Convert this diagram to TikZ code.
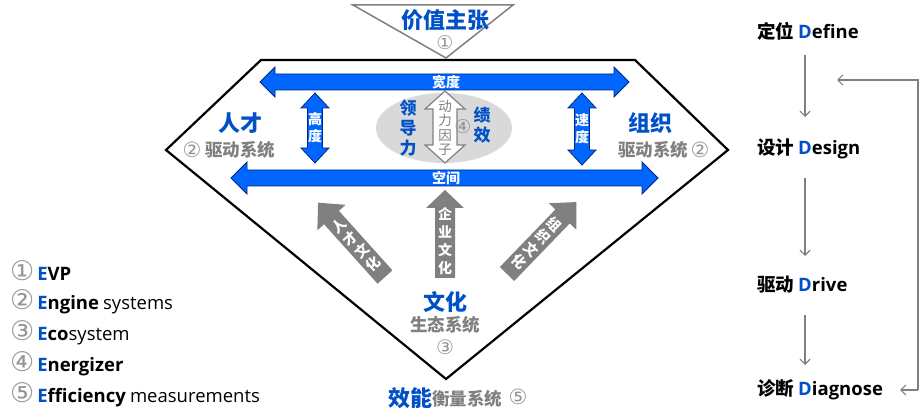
\documentclass[tikz,border=0pt]{standalone}
\usepackage{fontspec}
\setmainfont{Noto Sans CJK SC}
\newfontfamily\lat{Open Sans}
\newfontfamily\cnumfont{DejaVu Sans}
\usetikzlibrary{arrows.meta,calc}
\definecolor{vblue}{RGB}{0,102,255}
\definecolor{vblueD}{RGB}{0,40,130}
\definecolor{tblue}{RGB}{0,80,200}
\definecolor{tgray}{RGB}{128,128,128}
\definecolor{lgray}{RGB}{217,217,217}
\definecolor{cgray}{RGB}{150,150,150}
\newcommand{\cn}[2]{{\cnumfont\fontsize{#1}{#1}\selectfont\color{cgray}#2}}
\begin{document}
\begin{tikzpicture}[x=1pt,y=-1pt,
  fs/.style={font=\fontsize{#1}{#1}\selectfont},
  lbl/.style={inner sep=0pt, outer sep=0pt},
  barrow/.style={fill=vblue, draw=vblueD, line width=0.8pt, line join=miter},
  garrow/.style={fill=tgray, draw=none},
  warrow/.style={fill=white, draw=tgray, line width=1.2pt},
  flow/.style={draw=tgray, line width=1.2pt, -{Straight Barb[length=5pt,width=10pt]}},
  frame/.style={draw=black, line width=2.2pt, line join=miter},
]
\useasboundingbox (0,0) rectangle (920,419);

% main diamond frame
\draw[frame] (261,60) -- (635,60) -- (728,150) -- (446,379) -- (166,150) -- cycle;

% top triangle
\draw[fill=white, draw=tgray, line width=1.5pt] (353,5) -- (513,5) -- (446,58) -- cycle;
\node[lbl, fs=22, text=tblue] (evp) at (445,20) {\bfseries 价值主张};
\node[lbl] (evpn) at (445,43) {\cn{19}{①}};

% ellipse
\fill[lgray] (444,128) ellipse [x radius=68, y radius=35];

% blue horizontal arrows
\draw[barrow] (260,82) -- (275,67) -- (275,74) -- (614,74) -- (614,67) -- (629,82) -- (614,97) -- (614,90) -- (275,90) -- (275,97) -- cycle;
\draw[barrow] (231,178) -- (247,162) -- (247,170) -- (642,170) -- (642,162) -- (658,178) -- (642,194) -- (642,186) -- (247,186) -- (247,194) -- cycle;
\node[lbl, fs=14, text=white] (kuan) at (446,82) {\bfseries 宽度};
\node[lbl, fs=14, text=white] (kong) at (446,178) {\bfseries 空间};

% blue vertical arrows
\draw[barrow] (315,93) -- (329,108) -- (322.5,108) -- (322.5,148) -- (329,148) -- (315,163) -- (301,148) -- (307.5,148) -- (307.5,108) -- (301,108) -- cycle;
\draw[barrow] (582,93) -- (596,108) -- (589.5,108) -- (589.5,150) -- (596,150) -- (582,165) -- (568,150) -- (574.5,150) -- (574.5,108) -- (568,108) -- cycle;
\node[lbl, text=white, align=center, font=\fontsize{14}{17}\selectfont\bfseries] (gao) at (315,128) {高\\度};
\node[lbl, text=white, align=center, font=\fontsize{14}{17}\selectfont\bfseries] (su) at (582,129) {速\\度};

% energizer arrow
\draw[warrow] (445,91) -- (465,109) -- (457,109) -- (457,145) -- (465,145) -- (445,163) -- (425,145) -- (433,145) -- (433,109) -- (425,109) -- cycle;
\node[lbl, text=tgray, align=center, font=\fontsize{13.5}{14.5}\selectfont] (dong) at (445,128) {动\\力\\因\\子};
\node[lbl] (n4) at (463,127) {\cn{19}{④}};
\node[lbl, text=tblue, align=center, font=\fontsize{17}{20}\selectfont\bfseries] (ling) at (408,128) {领\\导\\力};
\node[lbl, text=tblue, align=center, font=\fontsize{17}{20}\selectfont\bfseries] (ji) at (482,125) {绩\\效};

% side labels
\node[lbl, fs=22, text=tblue] (rencai) at (240,123) {\bfseries 人才};
\node[lbl, fs=17.5, text=tgray, anchor=west] (qd1) at (205,150) {\bfseries 驱动系统};
\node[lbl] (n2a) at (192,150) {\cn{21}{②}};
\node[lbl, fs=22, text=tblue] (zuzhi) at (650,123) {\bfseries 组织};
\node[lbl, fs=17.5, text=tgray, anchor=east] (qd2) at (688,150) {\bfseries 驱动系统};
\node[lbl] (n2b) at (700,150) {\cn{21}{②}};

% gray culture arrows
\draw[garrow] (435,278) -- (435,208) -- (426,208) -- (445,190) -- (464,208) -- (455,208) -- (455,278) -- cycle;
\node[lbl, text=white, align=center, font=\fontsize{14}{18}\selectfont\bfseries] (qiye) at (445,241) {企\\业\\文\\化};
\begin{scope}[shift={(385,277)}, rotate=132]
  \fill[garrow] (0,-10) -- (80,-10) -- (80,-19) -- (100,0) -- (80,19) -- (80,10) -- (0,10) -- cycle;
\end{scope}
\node[lbl, text=white, align=center, rotate=42, font=\fontsize{14}{17}\selectfont\bfseries] (rcwh) at (356,245) {人\\才\\文\\化};
\begin{scope}[shift={(507,274)}, rotate=46]
  \fill[garrow] (0,-10) -- (80,-10) -- (80,-19) -- (100,0) -- (80,19) -- (80,10) -- (0,10) -- cycle;
\end{scope}
\node[lbl, text=white, align=center, rotate=-44, font=\fontsize{14}{17}\selectfont\bfseries] (zzwh) at (537,243) {组\\织\\文\\化};

% culture label
\node[lbl, fs=22, text=tblue] (wenhua) at (445,302) {\bfseries 文化};
\node[lbl, fs=17.5, text=tgray] (stxt) at (445,325) {\bfseries 生态系统};
\node[lbl] (n3) at (445,347) {\cn{20}{③}};

% efficiency label
\node[lbl, fs=22, text=tblue, anchor=east] (xn) at (432,398) {\bfseries 效能};
\node[lbl, fs=17.5, text=tgray, anchor=west] (hl) at (432,399) {\bfseries 衡量系统};
\node[lbl] (n5) at (518,397) {\cn{21}{⑤}};

% legend
\node[lbl, anchor=west, fs=18.5] (l1) at (10,271) {\cn{27}{①}\,{\lat\bfseries\textcolor{tblue}{E}VP}};
\node[lbl, anchor=west, fs=18.5] (l2) at (10,302) {\cn{27}{②}\,{\lat\bfseries\textcolor{tblue}{E}ngine} {\lat systems}};
\node[lbl, anchor=west, fs=18.5] (l3) at (10,333) {\cn{27}{③}\,{\lat\bfseries\textcolor{tblue}{E}co}{\lat system}};
\node[lbl, anchor=west, fs=18.5] (l4) at (10,364) {\cn{27}{④}\,{\lat\bfseries\textcolor{tblue}{E}nergizer}};
\node[lbl, anchor=west, fs=18.5] (l5) at (10,395) {\cn{27}{⑤}\,{\lat\bfseries\textcolor{tblue}{E}fficiency} {\lat measurements}};

% right flow
\node[lbl, anchor=west, fs=18.5] (define) at (757,31) {\bfseries 定位 {\lat\textcolor{tblue}{D}efine}};
\node[lbl, anchor=west, fs=18.5] (design) at (757,149) {\bfseries 设计 {\lat\textcolor{tblue}{D}esign}};
\node[lbl, anchor=west, fs=18.5] (drive) at (757,285) {\bfseries 驱动 {\lat\textcolor{tblue}{D}rive}};
\node[lbl, anchor=west, fs=18.5] (diag) at (757,390) {\bfseries 诊断 {\lat\textcolor{tblue}{D}iagnose}};

\coordinate (a1s) at (805,55);  \coordinate (a1e) at (805,117);
\coordinate (a2s) at (805,178); \coordinate (a2e) at (805,256);
\coordinate (a3s) at (805,315); \coordinate (a3e) at (805,365);
\coordinate (fbs) at (918,390); \coordinate (fbe) at (837,80);
\draw[flow] (a1s) -- (a1e);
\draw[flow] (a2s) -- (a2e);
\draw[flow] (a3s) -- (a3e);
\draw[flow] (fbs) -- (fbs |- fbe) -- (fbe);
\draw[flow] (fbs) -- (900,390);
\end{tikzpicture}
\end{document}
